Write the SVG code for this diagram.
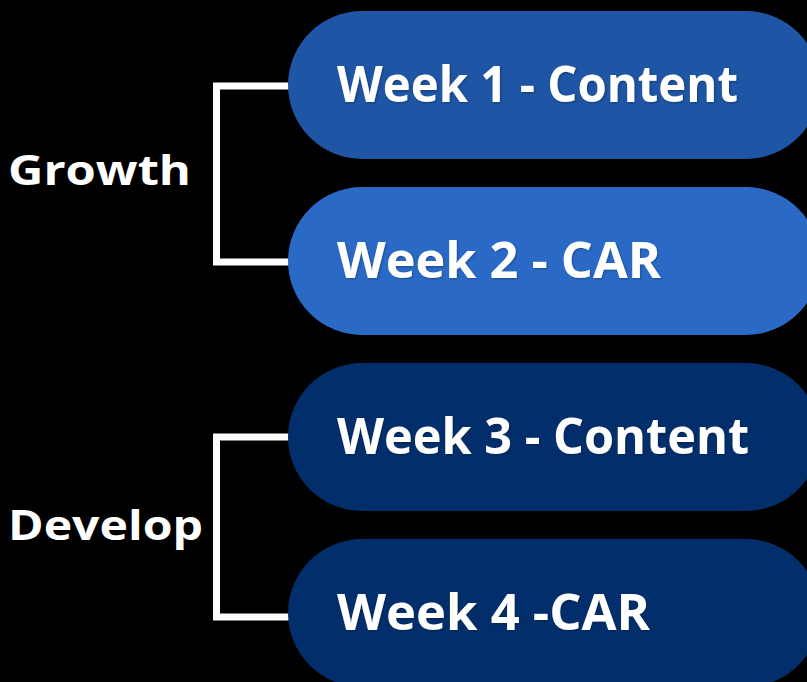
<svg xmlns="http://www.w3.org/2000/svg" width="807" height="682" viewBox="0 0 807 682">
<defs>
<style>
.pill{stroke:none}
.lbl{font-family:"Open Sans","Liberation Sans",sans-serif;font-weight:700;fill:#ffffff}
.wk{font-size:50px}
.grp{font-size:42px}
.br{fill:none;stroke:#ffffff;stroke-width:7}
</style>
<filter id="sh" x="-5%" y="-20%" width="110%" height="140%">
<feDropShadow dx="1" dy="1" stdDeviation="1" flood-color="#000000" flood-opacity="0.3"/>
</filter>
</defs>
<rect width="807" height="682" fill="#000000"/>
<g id="connectors">
<polyline class="br" points="290,86 216.5,86 216.5,262 290,262"/>
<polyline class="br" points="290,437 216.5,437 216.5,617 290,617"/>
</g>
<g id="week1">
<rect class="pill" x="288" y="11" width="532" height="148" rx="74" fill="#1E55A4"/>
<text class="lbl wk" x="337" y="102" textLength="401" lengthAdjust="spacingAndGlyphs" filter="url(#sh)">Week 1 - Content</text>
</g>
<g id="week2">
<rect class="pill" x="288" y="187" width="532" height="148" rx="74" fill="#2A6AC6"/>
<text class="lbl wk" x="337" y="278" textLength="324" lengthAdjust="spacingAndGlyphs" filter="url(#sh)">Week 2 - CAR</text>
</g>
<g id="week3">
<rect class="pill" x="288" y="363" width="532" height="148" rx="74" fill="#022F6C"/>
<text class="lbl wk" x="337" y="454" textLength="412" lengthAdjust="spacingAndGlyphs" filter="url(#sh)">Week 3 - Content</text>
</g>
<g id="week4">
<rect class="pill" x="288" y="539" width="532" height="148" rx="74" fill="#022F6C"/>
<text class="lbl wk" x="337" y="630" textLength="313" lengthAdjust="spacingAndGlyphs" filter="url(#sh)">Week 4 -CAR</text>
</g>
<g id="growth">
<text class="lbl grp" x="8" y="185" textLength="183" lengthAdjust="spacingAndGlyphs">Growth</text>
</g>
<g id="develop">
<text class="lbl grp" x="8" y="540" textLength="195" lengthAdjust="spacingAndGlyphs">Develop</text>
</g>
</svg>
